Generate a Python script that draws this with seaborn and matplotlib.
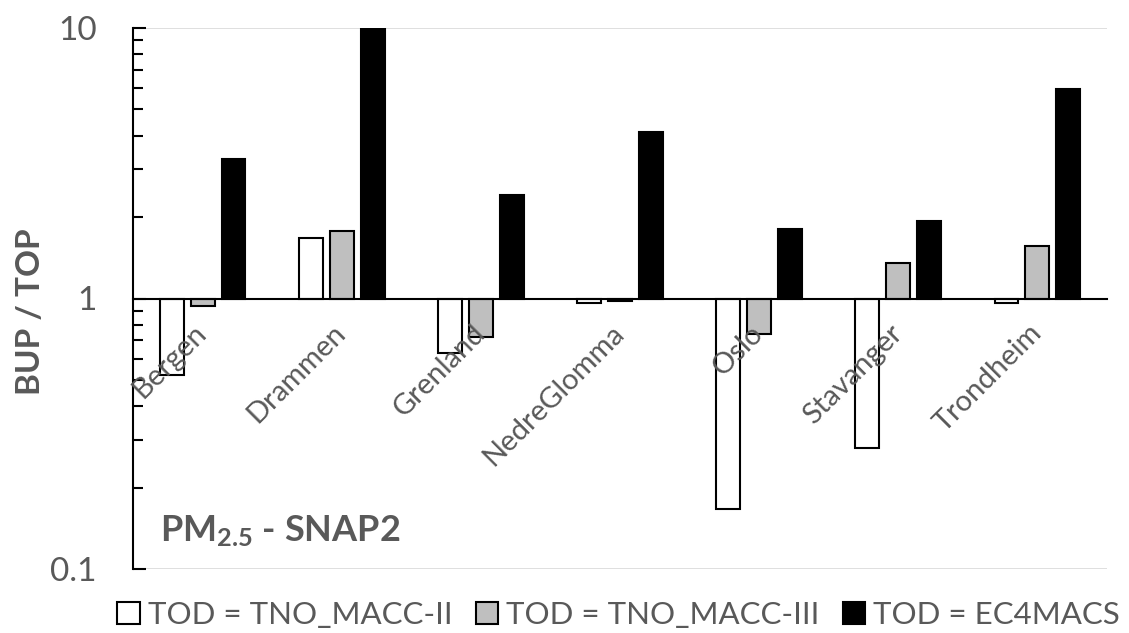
import numpy as np
import pandas as pd
import matplotlib
matplotlib.use("Agg")
import matplotlib.pyplot as plt
from matplotlib.ticker import FixedLocator
import seaborn as sns

cities = ["Bergen", "Drammen", "Grenland", "NedreGlomma", "Oslo", "Stavanger", "Trondheim"]
series = ["TOD = TNO_MACC-II", "TOD = TNO_MACC-III", "TOD = EC4MACS"]
macc2 = [0.52, 1.68, 0.63, 0.96, 0.167, 0.28, 0.965]
macc3 = [0.94, 1.78, 0.72, 0.975, 0.74, 1.35, 1.57]
ec4macs = [3.29, 10.0, 2.42, 4.14, 1.80, 1.93, 5.93]
colors = ["#ffffff", "#bfbfbf", "#000000"]
ytick_vals = [0.1, 1, 10]
ytick_labels = ["0.1", "1", "10"]

rows = []
for s, vals in zip(series, [macc2, macc3, ec4macs]):
    for c, v in zip(cities, vals):
        rows.append({"city": c, "series": s, "ratio": v, "logratio": np.log10(v)})
df = pd.DataFrame(rows)

sns.set_theme(style="white")
plt.rcParams["font.family"] = ["Lato", "DejaVu Sans"]
plt.rcParams["mathtext.fontset"] = "custom"
plt.rcParams["mathtext.rm"] = "Lato"
plt.rcParams["mathtext.bf"] = "Lato:bold"
plt.rcParams["mathtext.it"] = "Lato:italic"
GRAY = "#595959"

fig = plt.figure(figsize=(11.29, 6.33), dpi=100)
ax = fig.add_axes([133/1129, 1-569/633, (1107-133)/1129, (569-28)/633])

sns.barplot(data=df, x="city", y="logratio", hue="series", hue_order=series,
            order=cities, palette=colors, edgecolor="black", linewidth=1.5,
            width=0.667, gap=0.227, saturation=1, ax=ax, legend=True)
for p in ax.patches:
    p.set_zorder(1)

ax.set_ylim(-1, 1)
ax.set_xlim(-0.5, len(cities) - 0.5)
ax.set_yticks(np.log10(ytick_vals))
ax.set_yticklabels(ytick_labels)
minor = []
for base in [0.1, 1]:
    for m in range(2, 10):
        minor.append(np.log10(base * m))
ax.yaxis.set_minor_locator(FixedLocator(minor))
ax.tick_params(axis="y", which="major", direction="in", length=9, width=1.5,
               color="black", labelsize=24, labelcolor=GRAY, pad=26, left=True)
ax.tick_params(axis="y", which="minor", direction="in", length=7, width=1.5,
               color="black", left=True)

ax.grid(False)
for yv in [-1, 1]:
    ax.axhline(yv, color="#d9d9d9", lw=1.2, zorder=0)

for s in ["top", "right"]:
    ax.spines[s].set_visible(False)
ax.spines["left"].set_color("black")
ax.spines["left"].set_linewidth(1.5)
ax.spines["bottom"].set_position(("data", 0))
ax.spines["bottom"].set_color("black")
ax.spines["bottom"].set_linewidth(1.5)
ax.spines["bottom"].set_zorder(5)
ax.xaxis.set_zorder(6)

ax.tick_params(axis="x", length=0, labelsize=21, labelcolor=GRAY, pad=22)
for lab in ax.get_xticklabels():
    lab.set_rotation(45)
    lab.set_ha("right")
    lab.set_va("center")
    lab.set_rotation_mode("anchor")

ax.set_xlabel("")
ax.set_ylabel("BUP / TOP", fontsize=24, fontweight="bold", color=GRAY)
ax.yaxis.set_label_coords(-0.09, 0.475)

ax.text(0.028, 0.052, r"PM$_{\mathbf{2.5}}$ - SNAP2", transform=ax.transAxes,
        fontsize=26, fontweight="bold", color=GRAY, ha="left", va="baseline")

handles, labels = ax.get_legend_handles_labels()
ax.get_legend().remove()
leg = fig.legend(handles, labels, loc="center", bbox_to_anchor=(0.548, 1-615/633),
                 ncol=3, frameon=False, fontsize=22.5, handlelength=0.72,
                 handleheight=0.72, handletextpad=0.25, columnspacing=0.75,
                 labelcolor=GRAY)

fig.savefig("out.png", dpi=100)
